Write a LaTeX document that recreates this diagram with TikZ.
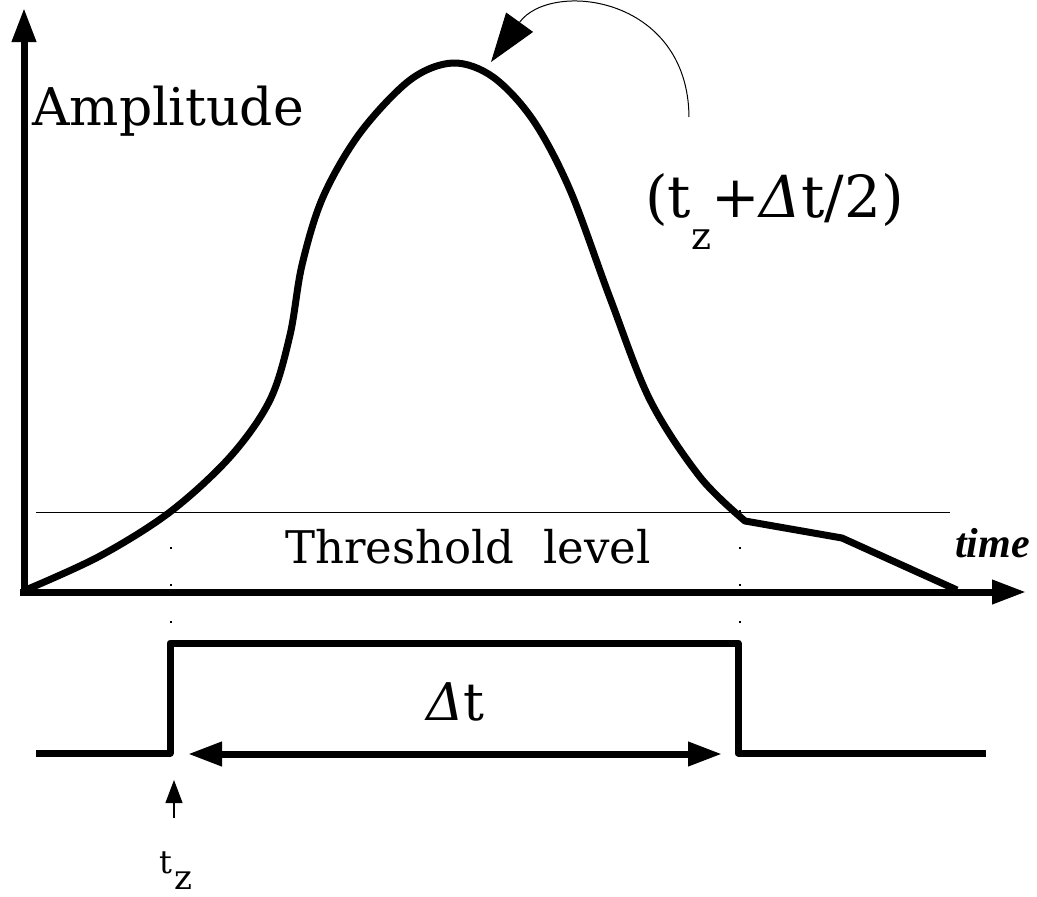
\documentclass[tikz,border=0pt]{standalone}
\usepackage{fontspec}
\setmainfont{DejaVu Serif}
\newfontfamily\timesfont{Liberation Serif}
\usetikzlibrary{arrows.meta}
\tikzset{
  thick line/.style={line width=7pt},
  axis/.style={line width=7pt,-{Triangle[length=34pt,width=23pt]}},
  thin line/.style={line width=1pt},
  dotline/.style={line width=1.5pt,dash pattern=on 1.5pt off 35.5pt},
  lbl/.style={inner sep=0pt,anchor=base west}
}
\newcommand{\dlt}{{\itshape Δ}}
\begin{document}
\begin{tikzpicture}[x=1pt,y=-1pt]
\useasboundingbox (0,0) rectangle (1037,897);
% axes
\coordinate (ybot) at (24,596);
\coordinate (ytop) at (24,8);
\coordinate (xbeg) at (20,592);
\coordinate (xend) at (1026,592);
\draw[axis] (ybot) -- (ytop);
\draw[axis] (xbeg) -- (xend);
% threshold
\coordinate (th1) at (36,512);
\coordinate (th2) at (950,512);
\draw[thin line] (th1) -- (th2);
% dotted verticals
\coordinate (d1a) at (171,510);
\coordinate (d1b) at (171,640);
\coordinate (d2a) at (740,510);
\coordinate (d2b) at (740,640);
\draw[dotline] (d1a) -- (d1b);
\draw[dotline] (d2a) -- (d2b);
% curve
\draw[thick line,line join=round] plot[smooth,tension=0.55] coordinates {
 (28,589) (100,556) (170,512) (230,457) (270,400) (290,335)
 (302,265) (323,197) (360,133) (410,80) (453,63) (493,77)
 (533,120) (570,190) (610,298) (650,400) (700,477) (745,521)}
 -- (842,538) -- (957,590);
% pulse
\coordinate (p0) at (36,753);
\coordinate (p1) at (170,753);
\coordinate (p2) at (170,643);
\coordinate (p3) at (738,643);
\coordinate (p4) at (738,753);
\coordinate (p5) at (986,753);
\draw[thick line,line join=round] (p0) -- (p1) -- (p2) -- (p3) -- (p4) -- (p5);
% delta t arrow
\coordinate (da) at (188,754);
\coordinate (db) at (722,754);
\draw[line width=7pt,{Triangle[length=34pt,width=23pt]}-{Triangle[length=34pt,width=23pt]}] (da) -- (db);
% tz arrow
\coordinate (ua) at (174,818);
\coordinate (ub) at (174,780);
\draw[line width=1.2pt,-{Triangle[length=23pt,width=17pt]}] (ua) -- (ub);
% curved arrow to peak
\coordinate (ca) at (689,117);
\coordinate (cb) at (491,62);
\draw[thin line,-{Triangle[length=49pt,width=33pt]}] (ca) .. controls (688,-5) and (550,-20) .. (cb);
% labels
\node[lbl] (amp) at (32,125) {\fontsize{52}{56}\selectfont Amplitude};
\node[lbl] (thr) at (285,563) {\fontsize{45}{49}\selectfont Threshold\ \ level};
\node[lbl] (tim) at (955,557) {\timesfont\bfseries\itshape\fontsize{42}{46}\selectfont time};
\node[lbl] (dt) at (426,720) {\fontsize{52}{56}\selectfont \dlt t};
\node[lbl] (tz) at (159,873) {\fontsize{32}{36}\selectfont t\kern2pt\raisebox{-16pt}{\fontsize{34}{38}\selectfont z}};
\node[lbl] (half) at (645,217) {\fontsize{58}{62}\selectfont (t\raisebox{-32pt}{\fontsize{38}{42}\selectfont z}+\dlt t/2)};
\end{tikzpicture}
\end{document}
